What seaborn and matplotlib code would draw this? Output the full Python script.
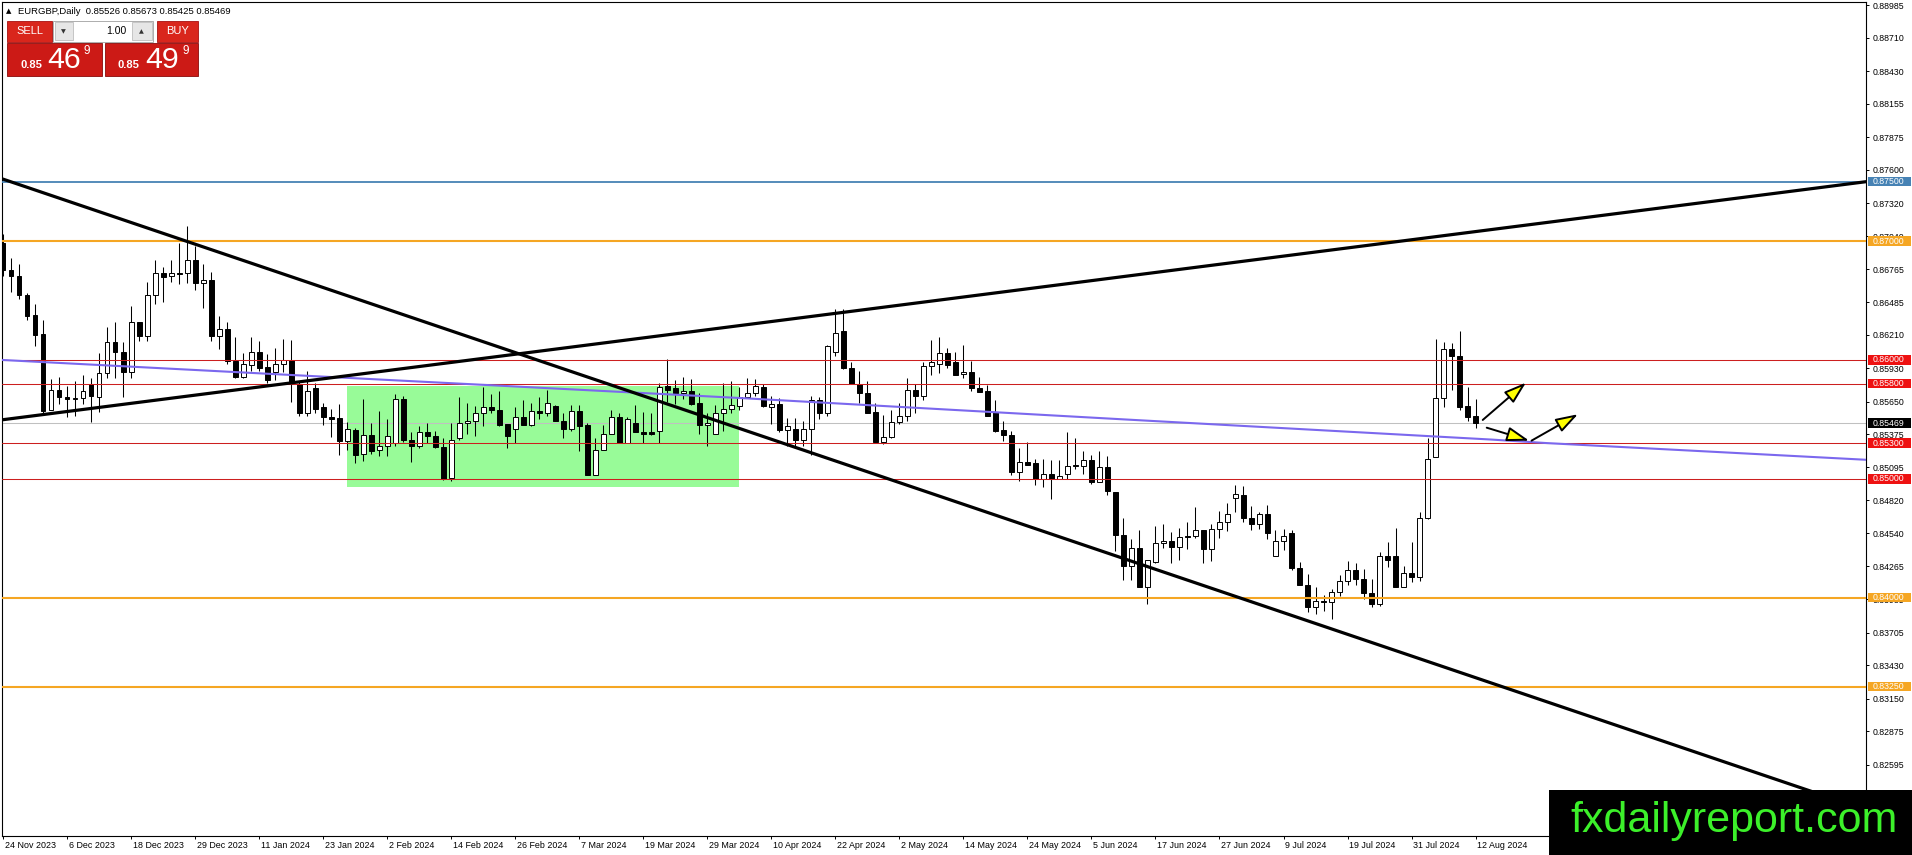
import numpy as np
import pandas as pd
import matplotlib
matplotlib.use('Agg')
import matplotlib.pyplot as plt
import matplotlib.transforms as mtransforms
from matplotlib.patches import Rectangle
import seaborn as sns

sns.set_theme(style='white')
plt.rcParams['font.family'] = ['Liberation Sans', 'DejaVu Sans']

# EURGBP daily candles (bar 0 = 24 Nov 2023)
opens = [0.8698, 0.8676, 0.8671, 0.8655, 0.8638, 0.8622, 0.8558, 0.8575, 0.8569, 0.8567,
         0.8568, 0.8580, 0.8569, 0.8589, 0.8615, 0.8607, 0.8590, 0.8632, 0.8620, 0.8655,
         0.8673, 0.8671, 0.8673, 0.8673, 0.8684, 0.8665, 0.8667, 0.8620, 0.8626, 0.8599,
         0.8586, 0.8596, 0.8607, 0.8594, 0.8590, 0.8597, 0.8600, 0.8580, 0.8555, 0.8576,
         0.8560, 0.8552, 0.8551, 0.8532, 0.8541, 0.8521, 0.8537, 0.8524, 0.8528, 0.8530,
         0.8567, 0.8533, 0.8528, 0.8539, 0.8536, 0.8527, 0.8501, 0.8534, 0.8547, 0.8549,
         0.8555, 0.8560, 0.8558, 0.8546, 0.8542, 0.8552, 0.8545, 0.8557, 0.8555, 0.8561,
         0.8549, 0.8542, 0.8557, 0.8545, 0.8503, 0.8524, 0.8538, 0.8552, 0.8530, 0.8547,
         0.8539, 0.8539, 0.8540, 0.8578, 0.8576, 0.8572, 0.8574, 0.8564, 0.8545, 0.8538,
         0.8555, 0.8559, 0.8561, 0.8569, 0.8572, 0.8577, 0.8560, 0.8563, 0.8541, 0.8542,
         0.8533, 0.8542, 0.8566, 0.8555, 0.8607, 0.8624, 0.8593, 0.8580, 0.8572, 0.8556,
         0.8531, 0.8535, 0.8548, 0.8553, 0.8575, 0.8570, 0.8595, 0.8597, 0.8606, 0.8598,
         0.8588, 0.8590, 0.8576, 0.8574, 0.8556, 0.8541, 0.8537, 0.8506, 0.8514, 0.8513,
         0.8500, 0.8504, 0.8500, 0.8504, 0.8512, 0.8511, 0.8516, 0.8497, 0.8510, 0.8489,
         0.8453, 0.8427, 0.8442, 0.8409, 0.8430, 0.8446, 0.8448, 0.8443, 0.8452, 0.8452,
         0.8457, 0.8441, 0.8458, 0.8464, 0.8484, 0.8486, 0.8467, 0.8462, 0.8470, 0.8435,
         0.8448, 0.8454, 0.8425, 0.8411, 0.8392, 0.8397, 0.8396, 0.8405, 0.8414, 0.8423,
         0.8416, 0.8404, 0.8395, 0.8435, 0.8435, 0.8409, 0.8421, 0.8417, 0.8467, 0.8518,
         0.8568, 0.8609, 0.8603, 0.8561, 0.85526]
highs = [0.8706, 0.8686, 0.8681, 0.8656, 0.8647, 0.8634, 0.8584, 0.8586, 0.8578, 0.8582,
         0.8587, 0.8585, 0.8606, 0.8628, 0.8632, 0.8615, 0.8645, 0.8632, 0.8666, 0.8684,
         0.8678, 0.8684, 0.8698, 0.8713, 0.8696, 0.8681, 0.8674, 0.8637, 0.8632, 0.8619,
         0.8606, 0.8619, 0.8616, 0.8605, 0.8610, 0.8618, 0.8617, 0.8582, 0.8591, 0.8581,
         0.8564, 0.8559, 0.8563, 0.8548, 0.8543, 0.8567, 0.8547, 0.8557, 0.8550, 0.8571,
         0.8570, 0.8539, 0.8544, 0.8547, 0.8540, 0.8534, 0.8547, 0.8569, 0.8564, 0.8561,
         0.8577, 0.8571, 0.8574, 0.8546, 0.8560, 0.8566, 0.8564, 0.8569, 0.8575, 0.8562,
         0.8555, 0.8562, 0.8562, 0.8547, 0.8534, 0.8545, 0.8558, 0.8555, 0.8552, 0.8562,
         0.8556, 0.8555, 0.8581, 0.8601, 0.8583, 0.8586, 0.8584, 0.8572, 0.8555, 0.8562,
         0.8581, 0.8582, 0.8577, 0.8585, 0.8584, 0.8580, 0.8570, 0.8568, 0.8551, 0.8551,
         0.8549, 0.8570, 0.8569, 0.8613, 0.8643, 0.8643, 0.8598, 0.8591, 0.8582, 0.8564,
         0.8554, 0.8558, 0.8564, 0.8585, 0.8580, 0.8598, 0.8617, 0.8619, 0.8610, 0.8607,
         0.8613, 0.8599, 0.8586, 0.8579, 0.8566, 0.8549, 0.8540, 0.8526, 0.8531, 0.8517,
         0.8517, 0.8516, 0.8516, 0.8539, 0.8534, 0.8523, 0.8520, 0.8523, 0.8519, 0.8489,
         0.8467, 0.8449, 0.8457, 0.8432, 0.8460, 0.8462, 0.8455, 0.8459, 0.8464, 0.8476,
         0.8457, 0.8462, 0.8473, 0.8480, 0.8495, 0.8494, 0.8477, 0.8472, 0.8478, 0.8457,
         0.8458, 0.8457, 0.8430, 0.8420, 0.8409, 0.8402, 0.8407, 0.8419, 0.8431, 0.8429,
         0.8424, 0.8416, 0.8438, 0.8447, 0.8459, 0.8427, 0.8447, 0.8472, 0.8534, 0.8618,
         0.8615, 0.8614, 0.8624, 0.8577, 0.85673]
lows = [0.8671, 0.8657, 0.8651, 0.8634, 0.8612, 0.8555, 0.8558, 0.8563, 0.8552, 0.8553,
        0.8563, 0.8548, 0.8556, 0.8585, 0.8585, 0.8569, 0.8585, 0.8616, 0.8616, 0.8647,
        0.8649, 0.8666, 0.8664, 0.8665, 0.8659, 0.8644, 0.8616, 0.8609, 0.8597, 0.8585,
        0.8585, 0.8591, 0.8591, 0.8581, 0.8583, 0.8590, 0.8565, 0.8553, 0.8553, 0.8555,
        0.8545, 0.8535, 0.8520, 0.8524, 0.8513, 0.8515, 0.8521, 0.8519, 0.8519, 0.8528,
        0.8531, 0.8514, 0.8526, 0.8530, 0.8526, 0.8499, 0.8498, 0.8533, 0.8538, 0.8536,
        0.8544, 0.8555, 0.8544, 0.8526, 0.8530, 0.8545, 0.8544, 0.8550, 0.8553, 0.8549,
        0.8534, 0.8540, 0.8523, 0.8503, 0.8503, 0.8524, 0.8538, 0.8530, 0.8530, 0.8539,
        0.8530, 0.8537, 0.8530, 0.8565, 0.8563, 0.8567, 0.8562, 0.8538, 0.8528, 0.8538,
        0.8540, 0.8555, 0.8558, 0.8569, 0.8570, 0.8560, 0.8546, 0.8539, 0.8528, 0.8527,
        0.8528, 0.8520, 0.8550, 0.8553, 0.8603, 0.8592, 0.8580, 0.8564, 0.8555, 0.8531,
        0.8529, 0.8534, 0.8546, 0.8549, 0.8555, 0.8566, 0.8587, 0.8589, 0.8593, 0.8587,
        0.8585, 0.8574, 0.8573, 0.8553, 0.8539, 0.8532, 0.8503, 0.8498, 0.8512, 0.8495,
        0.8493, 0.8483, 0.8500, 0.8500, 0.8508, 0.8504, 0.8496, 0.8497, 0.8486, 0.8439,
        0.8415, 0.8415, 0.8409, 0.8395, 0.8429, 0.8442, 0.8429, 0.8432, 0.8441, 0.8450,
        0.8429, 0.8431, 0.8450, 0.8456, 0.8472, 0.8464, 0.8457, 0.8458, 0.8449, 0.8435,
        0.8440, 0.8423, 0.8411, 0.8388, 0.8386, 0.8389, 0.8382, 0.8401, 0.8411, 0.8411,
        0.8399, 0.8392, 0.8393, 0.8426, 0.8409, 0.8409, 0.8413, 0.8414, 0.8466, 0.8518,
        0.8560, 0.8575, 0.8558, 0.8549, 0.85425]
closes = [0.8676, 0.8671, 0.8655, 0.8637, 0.8621, 0.8557, 0.8575, 0.8569, 0.8567, 0.8568,
          0.8574, 0.8570, 0.8589, 0.8615, 0.8607, 0.8590, 0.8632, 0.8620, 0.8655, 0.8673,
          0.8670, 0.8673, 0.8672, 0.8684, 0.8665, 0.8667, 0.8620, 0.8626, 0.8599, 0.8586,
          0.8597, 0.8607, 0.8593, 0.8583, 0.8597, 0.8600, 0.8580, 0.8555, 0.8574, 0.8559,
          0.8552, 0.8550, 0.8532, 0.8542, 0.8520, 0.8537, 0.8523, 0.8528, 0.8536, 0.8567,
          0.8533, 0.8528, 0.8539, 0.8536, 0.8527, 0.8500, 0.8533, 0.8547, 0.8549, 0.8555,
          0.8560, 0.8558, 0.8545, 0.8536, 0.8552, 0.8545, 0.8557, 0.8555, 0.8564, 0.8549,
          0.8542, 0.8557, 0.8544, 0.8503, 0.8524, 0.8538, 0.8552, 0.8530, 0.8550, 0.8539,
          0.8538, 0.8538, 0.8577, 0.8575, 0.8572, 0.8574, 0.8563, 0.8545, 0.8547, 0.8555,
          0.8559, 0.8562, 0.8569, 0.8572, 0.8578, 0.8561, 0.8563, 0.8541, 0.8544, 0.8533,
          0.8542, 0.8566, 0.8555, 0.8612, 0.8623, 0.8593, 0.8580, 0.8572, 0.8555, 0.8531,
          0.8535, 0.8548, 0.8553, 0.8575, 0.8570, 0.8595, 0.8598, 0.8606, 0.8596, 0.8587,
          0.8590, 0.8576, 0.8573, 0.8553, 0.8540, 0.8537, 0.8506, 0.8514, 0.8512, 0.8500,
          0.8504, 0.8500, 0.8502, 0.8511, 0.8511, 0.8516, 0.8497, 0.8510, 0.8490, 0.8453,
          0.8427, 0.8442, 0.8409, 0.8432, 0.8446, 0.8448, 0.8443, 0.8451, 0.8451, 0.8457,
          0.8441, 0.8458, 0.8464, 0.8470, 0.8487, 0.8467, 0.8462, 0.8470, 0.8454, 0.8448,
          0.8452, 0.8425, 0.8411, 0.8392, 0.8397, 0.8396, 0.8405, 0.8414, 0.8423, 0.8416,
          0.8404, 0.8395, 0.8435, 0.8432, 0.8409, 0.8421, 0.8417, 0.8467, 0.8517, 0.8568,
          0.8609, 0.8603, 0.8560, 0.8552, 0.85469]

date_labels = ['24 Nov 2023', '6 Dec 2023', '18 Dec 2023', '29 Dec 2023', '11 Jan 2024',
               '23 Jan 2024', '2 Feb 2024', '14 Feb 2024', '26 Feb 2024', '7 Mar 2024',
               '19 Mar 2024', '29 Mar 2024', '10 Apr 2024', '22 Apr 2024', '2 May 2024',
               '14 May 2024', '24 May 2024', '5 Jun 2024', '17 Jun 2024', '27 Jun 2024',
               '9 Jul 2024', '19 Jul 2024', '31 Jul 2024', '12 Aug 2024']
label_step = 8

price_ticks = [0.88985, 0.88710, 0.88430, 0.88155, 0.87875, 0.87600, 0.87320, 0.87040,
               0.86765, 0.86485, 0.86210, 0.85930, 0.85650, 0.85375, 0.85095, 0.84820,
               0.84540, 0.84265, 0.83985, 0.83705, 0.83430, 0.83150, 0.82875, 0.82595]

blue_levels = [0.875]
orange_levels = [0.870, 0.840, 0.8325]
red_levels = [0.860, 0.858, 0.853, 0.850]
bid_price = 0.85469

# trend lines (bar index, price)
down_x = [-0.4, 226.4]
down_y = [0.8753, 0.8236]
up_x = [0.05, 232.8]
up_y = [0.85498, 0.8750]
ma_x = [-0.16, 37, 92, 140, 186, 193, 232.8]
ma_y = [0.8600, 0.8587, 0.8568, 0.8550, 0.8533, 0.8530, 0.8516]

# green range box
box_x = [43.0, 91.96]
box_y = [0.84928, 0.85777]

# yellow arrows: (tail bar, tail price, tip bar, tip price)
arrow_tail_x = [184.9, 185.4, 191.0]
arrow_tail_y = [0.85495, 0.85430, 0.85321]
arrow_tip_x = [190.3, 190.7, 196.8]
arrow_tip_y = [0.85809, 0.85321, 0.85543]

W, H = 1912, 855
candles = pd.DataFrame({'o': opens, 'h': highs, 'l': lows, 'c': closes})
candles['bar'] = np.arange(len(candles))
candles['up'] = candles['c'] >= candles['o']

fig = plt.figure(figsize=(W / 100, H / 100), dpi=100)
fig.patch.set_facecolor('white')
ax = fig.add_axes([2 / W, 19 / H, 1864 / W, 833.5 / H])
ax.set_facecolor('white')

ax.add_patch(Rectangle((box_x[0], box_y[0]), box_x[1] - box_x[0], box_y[1] - box_y[0],
                       fc='#98fb98', ec='none', zorder=0.6))

ax.axhline(bid_price, color='#c0c0c0', lw=0.75, zorder=1)

# candles
ax.vlines(candles['bar'], candles['l'], candles['h'], color='black', lw=0.75, zorder=2)
body_low = candles[['o', 'c']].min(axis=1)
body_h = (candles['c'] - candles['o']).abs().clip(lower=0.00002)
ax.bar(candles['bar'], body_h, bottom=body_low, width=0.55,
       color=np.where(candles['up'], 'white', 'black'), edgecolor='black', linewidth=0.7,
       zorder=3)

for lv in red_levels:
    ax.axhline(lv, color='#cc1f1f', lw=0.75, zorder=4)
for lv in orange_levels:
    ax.axhline(lv, color='#f5a623', lw=1.5, zorder=4)
for lv in blue_levels:
    ax.axhline(lv, color='#4682b4', lw=1.3, zorder=4)

sns.lineplot(x=ma_x, y=ma_y, ax=ax, color='#7b68ee', lw=1.5, zorder=4.5)
ax.axline((down_x[0], down_y[0]), (down_x[1], down_y[1]), color='black', lw=2.3, zorder=5)
ax.axline((up_x[0], up_y[0]), (up_x[1], up_y[1]), color='black', lw=2.3, zorder=5)

for tx, ty, hx, hy in zip(arrow_tail_x, arrow_tail_y, arrow_tip_x, arrow_tip_y):
    ax.annotate('', xy=(hx, hy), xytext=(tx, ty),
                arrowprops=dict(arrowstyle='-|>,head_length=0.4,head_width=0.13',
                                mutation_scale=34, fc='#ffff00', ec='black', lw=1.4,
                                shrinkA=0, shrinkB=0), zorder=6)

ax.set_xlim(-0.16, 232.8)
ax.set_ylim(0.81994, 0.89008)
ax.grid(False)
for sp in ax.spines.values():
    sp.set_color('black')
    sp.set_linewidth(0.8)

# right price scale
ax.yaxis.tick_right()
ax.set_yticks(price_ticks)
ax.set_yticklabels([f'{v:.5f}' for v in price_ticks])
ax.tick_params(axis='y', which='both', left=False, right=True, direction='out', length=2.2,
               width=0.7, pad=2.5, labelsize=6.3, colors='black')

# date scale
ax.set_xticks(np.arange(0, len(date_labels) * label_step, label_step))
ax.set_xticklabels(date_labels, ha='left')
ax.tick_params(axis='x', which='both', bottom=True, direction='out', length=2.5, width=0.7,
               pad=0.8, labelsize=6.4, colors='black')
shift = mtransforms.ScaledTranslation(1.5 / 100, 0, fig.dpi_scale_trans)
for lab in ax.get_xticklabels():
    lab.set_transform(lab.get_transform() + shift)

# coloured price tags on the scale
tags = [(0.875, '#4682b4'), (0.870, '#f5a623'), (0.860, '#ee1111'), (0.858, '#ee1111'),
        (bid_price, 'black'), (0.853, '#ee1111'), (0.850, '#ee1111'), (0.840, '#f5a623'),
        (0.8325, '#f5a623')]
ytr = ax.get_yaxis_transform()
tag_h = 9.5 / 11884
for val, col in tags:
    ax.add_patch(Rectangle((1 + 1.7 / 1864, val - tag_h / 2), 43 / 1864, tag_h, transform=ytr,
                           fc=col, ec='none', clip_on=False, zorder=10))
    ax.text(1 + 6.5 / 1864, val, f'{val:.5f}', transform=ytr, color='white', fontsize=6.3,
            ha='left', va='center', clip_on=False, zorder=11)


def px_box(x0, y0, x1, y1, **kw):
    fig.patches.append(Rectangle((x0 / W, 1 - y1 / H), (x1 - x0) / W, (y1 - y0) / H,
                                 transform=fig.transFigure, **kw))


def px_text(x, y, s, **kw):
    fig.text(x / W, 1 - y / H, s, **kw)


# header and one-click trading panel
px_text(6, 11, '▲', fontsize=5, va='center', color='black', family=['DejaVu Sans'])
px_text(18.5, 11, 'EURGBP,Daily  0.85526 0.85673 0.85425 0.85469', fontsize=6.8,
        va='center', color='black')
px_box(7.3, 20.7, 51.7, 41.7, fc='#d9261c', ec='#a81010', lw=0.6)
px_text(29.5, 31.5, 'SELL', fontsize=8, color='white', ha='center', va='center')
px_box(53.3, 20.7, 152.7, 41.7, fc='white', ec='#a0a0a0', lw=0.6)
px_box(54.5, 22, 73, 40.5, fc='#e6e6e6', ec='#b4b4b4', lw=0.5)
px_box(132, 22, 151.5, 40.5, fc='#e6e6e6', ec='#b4b4b4', lw=0.5)
px_text(63.7, 31.5, '▼', fontsize=4.5, color='#333333', ha='center', va='center',
        family=['DejaVu Sans'])
px_text(141.8, 31.5, '▲', fontsize=4.5, color='#333333', ha='center', va='center',
        family=['DejaVu Sans'])
px_text(126.7, 31.5, '1.00', fontsize=7.5, color='black', ha='right', va='center')
px_box(156.7, 20.7, 198.3, 41.7, fc='#d9261c', ec='#a81010', lw=0.6)
px_text(177.5, 31.5, 'BUY', fontsize=8, color='white', ha='center', va='center')
px_box(7.3, 42.7, 101.7, 75.6, fc='#cc1a16', ec='#8a0a0a', lw=0.6)
px_box(105, 42.7, 198.3, 75.6, fc='#cc1a16', ec='#8a0a0a', lw=0.6)
px_text(20.7, 67.5, '0.85', fontsize=8, color='white', weight='bold', va='baseline')
px_text(47.5, 68.5, '46', fontsize=21.8, color='white', va='baseline')
px_text(83, 45.5, '9', fontsize=8.5, color='white', va='top')
px_text(118, 67.5, '0.85', fontsize=8, color='white', weight='bold', va='baseline')
px_text(145, 68.5, '49', fontsize=21.8, color='white', va='baseline')
px_text(182.5, 45.5, '9', fontsize=8.5, color='white', va='top')

# watermark
px_box(1549, 790, 1912, 855, fc='black', ec='none', zorder=20)
px_text(1734.5, 832, 'fxdailyreport.com', fontsize=31, color='#3cf02a', ha='center',
        va='baseline', zorder=21)

fig.savefig('out.png', dpi=100, facecolor='white')
